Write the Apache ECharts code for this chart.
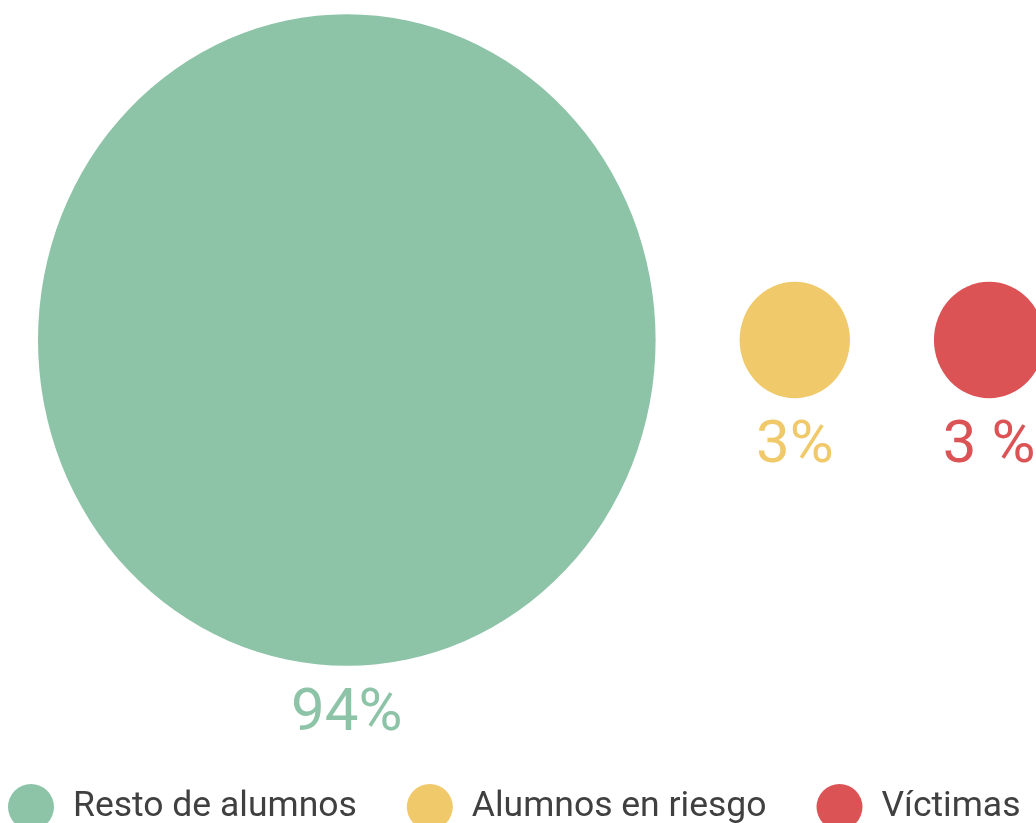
<!DOCTYPE html>
<html>
<head>
    <meta charset="utf-8">
    <title>ECharts</title>
    <script src="https://cdn.jsdelivr.net/npm/echarts@6/dist/echarts.min.js"></script>
</head>
<body style="margin:0">
    <div id="main" style="width: 1036px;height:823px;"></div>
    <script type="text/javascript">

var names = ['Resto de alumnos', 'Alumnos en riesgo', 'Víctimas'];
var percents = [94, 3, 3];
var labels = ['94%', '3%', '3 %'];
var colors = ['#8dc3a7', '#f0c96a', '#dc5356'];

// bubble area proportional to value
var scaleW = 63.7, scaleH = 67.2;
var gap = 84, startX = 38;

var myChart = echarts.init(document.getElementById('main'));

var series = [];
var cursor = startX;
for (var i = 0; i < names.length; i++) {
    var w = scaleW * Math.sqrt(percents[i]);
    var h = scaleH * Math.sqrt(percents[i]);
    series.push({
        name: names[i],
        type: 'scatter',
        symbol: 'circle',
        symbolSize: [w, h],
        itemStyle: { color: colors[i], opacity: 1 },
        label: {
            show: true,
            position: 'bottom',
            distance: 19,
            formatter: labels[i],
            color: colors[i],
            fontFamily: 'Roboto',
            fontWeight: 400,
            fontSize: 60
        },
        emphasis: { disabled: true },
        data: [[cursor + w / 2, 0]]
    });
    cursor += w + gap;
}

var myOption = {
    animation: false,
    grid: { left: 0, right: 0, top: 0, bottom: 0 },
    xAxis: { type: 'value', min: 0, max: 1036, show: false },
    yAxis: { type: 'value', min: -483, max: 340, show: false },
    legend: {
        data: names,
        left: 3,
        top: 779,
        icon: 'circle',
        itemWidth: 46,
        itemHeight: 46,
        itemGap: 50,
        textStyle: {
            color: '#404040',
            fontFamily: 'Roboto',
            fontSize: 35.5,
            padding: [0, 0, 0, 14]
        }
    },
    series: series
};
myChart.setOption(myOption);
    </script>
</body>
</html>
